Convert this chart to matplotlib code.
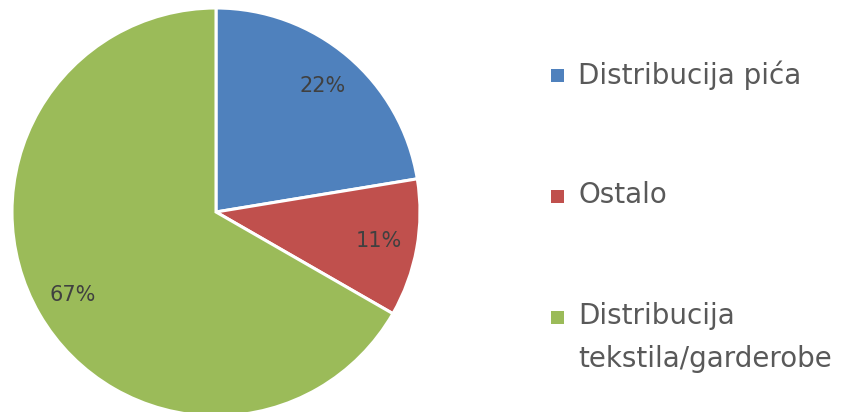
import matplotlib.pyplot as plt
from matplotlib.patches import Rectangle

labels = ["Distribucija pića", "Ostalo", "Distribucija\ntekstila/garderobe"]
shares = [22.4, 10.9, 66.7]
colors = ["#4F81BD", "#C0504D", "#9BBB59"]

fig = plt.figure(figsize=(8.46, 4.12), dpi=100)
W, H = 846, 412

# pie axes: centre (216, 212), radius 204 px
ax = fig.add_axes([12 / W, (412 - 416) / H, 408 / W, 408 / H])
wedges, texts, autotexts = ax.pie(
    shares,
    colors=colors,
    startangle=90,
    counterclock=False,
    autopct='%1.0f%%',
    pctdistance=0.81,
    wedgeprops=dict(edgecolor='white', linewidth=2.2),
    textprops=dict(fontsize=15, color='#404040'),
)
ax.set_xlim(-1, 1)
ax.set_ylim(-1, 1)
ax.set_aspect('equal')
ax.axis('off')

# legend drawn by hand so the marker sits on the first text line
row_y = [76, 197, 318]
for lab, col, y in zip(labels, colors, row_y):
    fig.patches.append(Rectangle((551 / W, 1 - (y + 6) / H), 13 / W, 13 / H,
                                 transform=fig.transFigure, facecolor=col,
                                 edgecolor='none'))
    fig.text(578 / W, 1 - (y - 16) / H, lab, fontsize=20, color='#595959',
             va='top', ha='left', linespacing=1.69)

fig.savefig('out.png', dpi=100)
